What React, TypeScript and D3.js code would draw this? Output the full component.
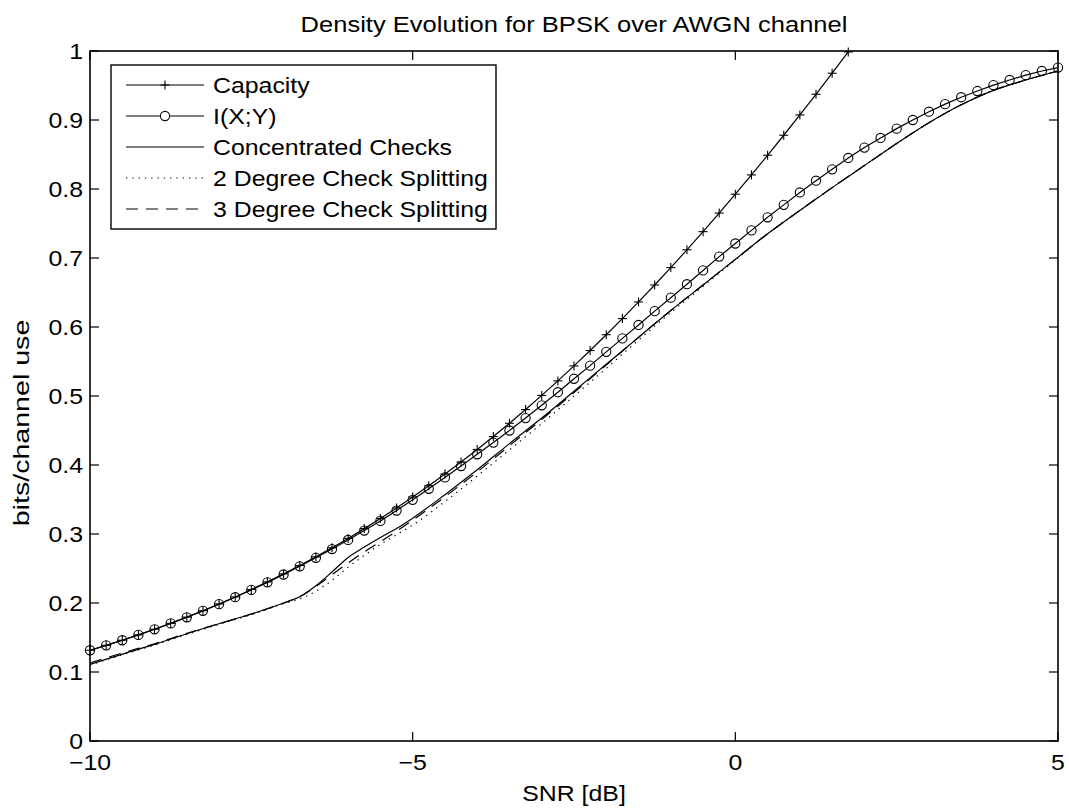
import React from 'react';
import * as d3 from 'd3';

// ---------- data ----------
const snrMarkers = [
  -10, -9.75, -9.5, -9.25, -9, -8.75, -8.5, -8.25, -8, -7.75, -7.5, -7.25, -7, -6.75, -6.5, -6.25,
  -6, -5.75, -5.5, -5.25, -5, -4.75, -4.5, -4.25, -4, -3.75, -3.5, -3.25, -3, -2.75, -2.5, -2.25,
  -2, -1.75, -1.5, -1.25, -1, -0.75, -0.5, -0.25, 0, 0.25, 0.5, 0.75, 1, 1.25, 1.5, 1.75,
  2, 2.25, 2.5, 2.75, 3, 3.25, 3.5, 3.75, 4, 4.25, 4.5, 4.75, 5,
];

const capacity = [
  0.1315, 0.1386, 0.146, 0.1538, 0.162, 0.1705, 0.1795, 0.1888, 0.1986, 0.2088,
  0.2195, 0.2306, 0.2422, 0.2543, 0.2669, 0.28, 0.2936, 0.3078, 0.3225, 0.3377,
  0.3535, 0.3699, 0.3868, 0.4044, 0.4225, 0.4412, 0.4605, 0.4804, 0.5009, 0.5219,
  0.5436, 0.5659, 0.5888, 0.6122, 0.6363, 0.6609, 0.6861, 0.7119, 0.7382, 0.7651,
  0.7925, 0.8204, 0.8489, 0.8779, 0.9074, 0.9373, 0.9678, 0.9986,
];

const mutualInfo = [
  0.1315, 0.1386, 0.146, 0.1538, 0.1619, 0.1704, 0.1793, 0.1886, 0.1983, 0.2084,
  0.219, 0.2299, 0.2413, 0.2532, 0.2655, 0.2782, 0.2914, 0.305, 0.319, 0.334,
  0.3495, 0.3655, 0.382, 0.3985, 0.4155, 0.4325, 0.45, 0.468, 0.4865, 0.5055,
  0.525, 0.544, 0.564, 0.5835, 0.603, 0.623, 0.6425, 0.662, 0.682, 0.702,
  0.721, 0.74, 0.759, 0.777, 0.795, 0.812, 0.8285, 0.845, 0.86, 0.874,
  0.8875, 0.9, 0.912, 0.923, 0.933, 0.942, 0.9505, 0.958, 0.965, 0.971, 0.976,
];

const snrDE = [
  -10, -9.5, -9, -8.5, -8, -7.5, -7, -6.75, -6.5, -6.25, -6, -5.75, -5.5, -5.25, -5,
  -4.5, -4, -3.5, -3, -2.5, -2, -1.5, -1, -0.5, 0, 0.5, 1, 1.5, 2, 2.5, 3, 3.5, 4, 4.5, 5,
];

const concentrated = [
  0.111, 0.126, 0.14, 0.1555, 0.17, 0.184, 0.2, 0.209, 0.225, 0.245, 0.266, 0.281, 0.295, 0.308, 0.323,
  0.357, 0.393, 0.431, 0.468, 0.507, 0.546, 0.585, 0.624, 0.661, 0.698, 0.735, 0.769, 0.802, 0.834, 0.866,
  0.896, 0.922, 0.943, 0.958, 0.971,
];

const split2 = [
  0.11, 0.125, 0.139, 0.1545, 0.169, 0.183, 0.199, 0.206, 0.217, 0.233, 0.252, 0.269, 0.285, 0.299, 0.313,
  0.347, 0.384, 0.422, 0.46, 0.5, 0.54, 0.581, 0.621, 0.659, 0.697, 0.735, 0.769, 0.802, 0.834, 0.866,
  0.896, 0.922, 0.943, 0.958, 0.971,
];

const split3 = [
  0.113, 0.1275, 0.141, 0.156, 0.17, 0.184, 0.2, 0.209, 0.224, 0.241, 0.258, 0.274, 0.289, 0.304, 0.32,
  0.354, 0.39, 0.428, 0.466, 0.505, 0.545, 0.585, 0.624, 0.661, 0.698, 0.735, 0.769, 0.802, 0.834, 0.866,
  0.896, 0.922, 0.943, 0.958, 0.971,
];

const xTicks = [-10, -5, 0, 5];
const xTickLabels = ['\u221210', '\u22125', '0', '5'];
const yTicks = [0, 0.1, 0.2, 0.3, 0.4, 0.5, 0.6, 0.7, 0.8, 0.9, 1];
const yTickLabels = ['0', '0.1', '0.2', '0.3', '0.4', '0.5', '0.6', '0.7', '0.8', '0.9', '1'];
const legendLabels = [
  'Capacity',
  'I(X;Y)',
  'Concentrated Checks',
  '2 Degree Check Splitting',
  '3 Degree Check Splitting',
];
const titleText = 'Density Evolution for BPSK over AWGN channel';
const xLabel = 'SNR [dB]';
const yLabel = 'bits/channel use';

// ---------- layout ----------
const W = 1069;
const H = 811;
const PL = 90, PR = 1058, PT = 51, PB = 741;
const FONT = '"Liberation Sans", Arial, Helvetica, sans-serif';
const FS = 22;
const SX = 1.13;
const TICK = 9;

function T(props: { x: number; y: number; anchor?: string; size?: number; children: React.ReactNode }) {
  const { x, y, anchor = 'start', size = FS, children } = props;
  return (
    <text
      transform={`translate(${x},${y}) scale(${SX},1)`}
      textAnchor={anchor}
      fontFamily={FONT}
      fontSize={size}
      fill="#000"
    >
      {children}
    </text>
  );
}

function Plus({ cx, cy, s = 4.5 }: { cx: number; cy: number; s?: number }) {
  return (
    <g stroke="#000" strokeWidth={1.1}>
      <line x1={cx - s} x2={cx + s} y1={cy} y2={cy} />
      <line x1={cx} x2={cx} y1={cy - s} y2={cy + s} />
    </g>
  );
}

export default function App() {
  const x = d3.scaleLinear().domain([-10, 5]).range([PL, PR]);
  const y = d3.scaleLinear().domain([0, 1]).range([PB, PT]);

  const lin = d3
    .line<[number, number]>()
    .x((d) => x(d[0]))
    .y((d) => y(d[1]));
  const smooth = d3
    .line<[number, number]>()
    .x((d) => x(d[0]))
    .y((d) => y(d[1]))
    .curve(d3.curveMonotoneX);

  const capPts: [number, number][] = capacity.map((v, i) => [snrMarkers[i], v]);
  const miPts: [number, number][] = mutualInfo.map((v, i) => [snrMarkers[i], v]);
  const concPts: [number, number][] = concentrated.map((v, i) => [snrDE[i], v]);
  const s2Pts: [number, number][] = split2.map((v, i) => [snrDE[i], v]);
  const s3Pts: [number, number][] = split3.map((v, i) => [snrDE[i], v]);

  // legend geometry
  const LX0 = 111, LX1 = 496, LY0 = 65, LY1 = 229;
  const rowY = (i: number) => 85 + i * 31;
  const lineA = 126, lineB = 204, lineMid = 165, textX = 213;

  return (
    <div style={{ position: 'absolute', left: 0, top: 0 }}>
      <svg width={W} height={H} style={{ display: 'block', background: '#fff' }}>
        <rect x={0} y={0} width={W} height={H} fill="#fff" />

        {/* data */}
        <path d={smooth(s2Pts) || ''} fill="none" stroke="#000" strokeWidth={1.2} strokeDasharray="1.3,5" />
        <path d={smooth(s3Pts) || ''} fill="none" stroke="#000" strokeWidth={1.2} strokeDasharray="12,8" />
        <path d={smooth(concPts) || ''} fill="none" stroke="#000" strokeWidth={1.2} />
        <path d={lin(miPts) || ''} fill="none" stroke="#000" strokeWidth={1.2} />
        <path d={lin(capPts) || ''} fill="none" stroke="#000" strokeWidth={1.2} />
        {miPts.map((d, i) => (
          <circle key={'c' + i} cx={x(d[0])} cy={y(d[1])} r={4.6} fill="none" stroke="#000" strokeWidth={1.1} />
        ))}
        {capPts.map((d, i) => (
          <Plus key={'p' + i} cx={x(d[0])} cy={y(d[1])} />
        ))}

        {/* axes box and ticks */}
        <rect x={PL} y={PT} width={PR - PL} height={PB - PT} fill="none" stroke="#000" strokeWidth={1.6} />
        {xTicks.map((t, i) => (
          <g key={'xt' + i} stroke="#000" strokeWidth={1.2}>
            <line x1={x(t)} x2={x(t)} y1={PB} y2={PB - TICK} />
            <line x1={x(t)} x2={x(t)} y1={PT} y2={PT + TICK} />
          </g>
        ))}
        {yTicks.map((t, i) => (
          <g key={'yt' + i} stroke="#000" strokeWidth={1.2}>
            <line x1={PL} x2={PL + TICK} y1={y(t)} y2={y(t)} />
            <line x1={PR} x2={PR - TICK} y1={y(t)} y2={y(t)} />
          </g>
        ))}
        {xTicks.map((t, i) => (
          <T key={'xl' + i} x={x(t)} y={770} anchor="middle">
            {xTickLabels[i]}
          </T>
        ))}
        {yTicks.map((t, i) => (
          <T key={'yl' + i} x={83} y={y(t) + 8} anchor="end">
            {yTickLabels[i]}
          </T>
        ))}

        {/* labels */}
        <T x={(PL + PR) / 2} y={32} anchor="middle" size={22.6}>{titleText}</T>
        <T x={(PL + PR) / 2} y={801} anchor="middle">{xLabel}</T>
        <text
          transform={`translate(29,423) rotate(-90) scale(1.3,1)`}
          textAnchor="middle"
          fontFamily={FONT}
          fontSize={FS}
          fill="#000"
        >
          {yLabel}
        </text>

        {/* legend */}
        <rect x={LX0} y={LY0} width={LX1 - LX0} height={LY1 - LY0} fill="#fff" stroke="#000" strokeWidth={1.4} />
        {legendLabels.map((lab, i) => {
          const cy = rowY(i);
          const dash = i === 3 ? '1.3,5' : i === 4 ? '12,8' : undefined;
          return (
            <g key={'lg' + i}>
              <line x1={lineA} x2={lineB} y1={cy} y2={cy} stroke="#000" strokeWidth={1.2} strokeDasharray={dash} />
              {i === 0 && <Plus cx={lineMid} cy={cy} />}
              {i === 1 && <circle cx={lineMid} cy={cy} r={4.6} fill="#fff" stroke="#000" strokeWidth={1.1} />}
              <T x={textX} y={cy + 8}>{lab}</T>
            </g>
          );
        })}
      </svg>
    </div>
  );
}
